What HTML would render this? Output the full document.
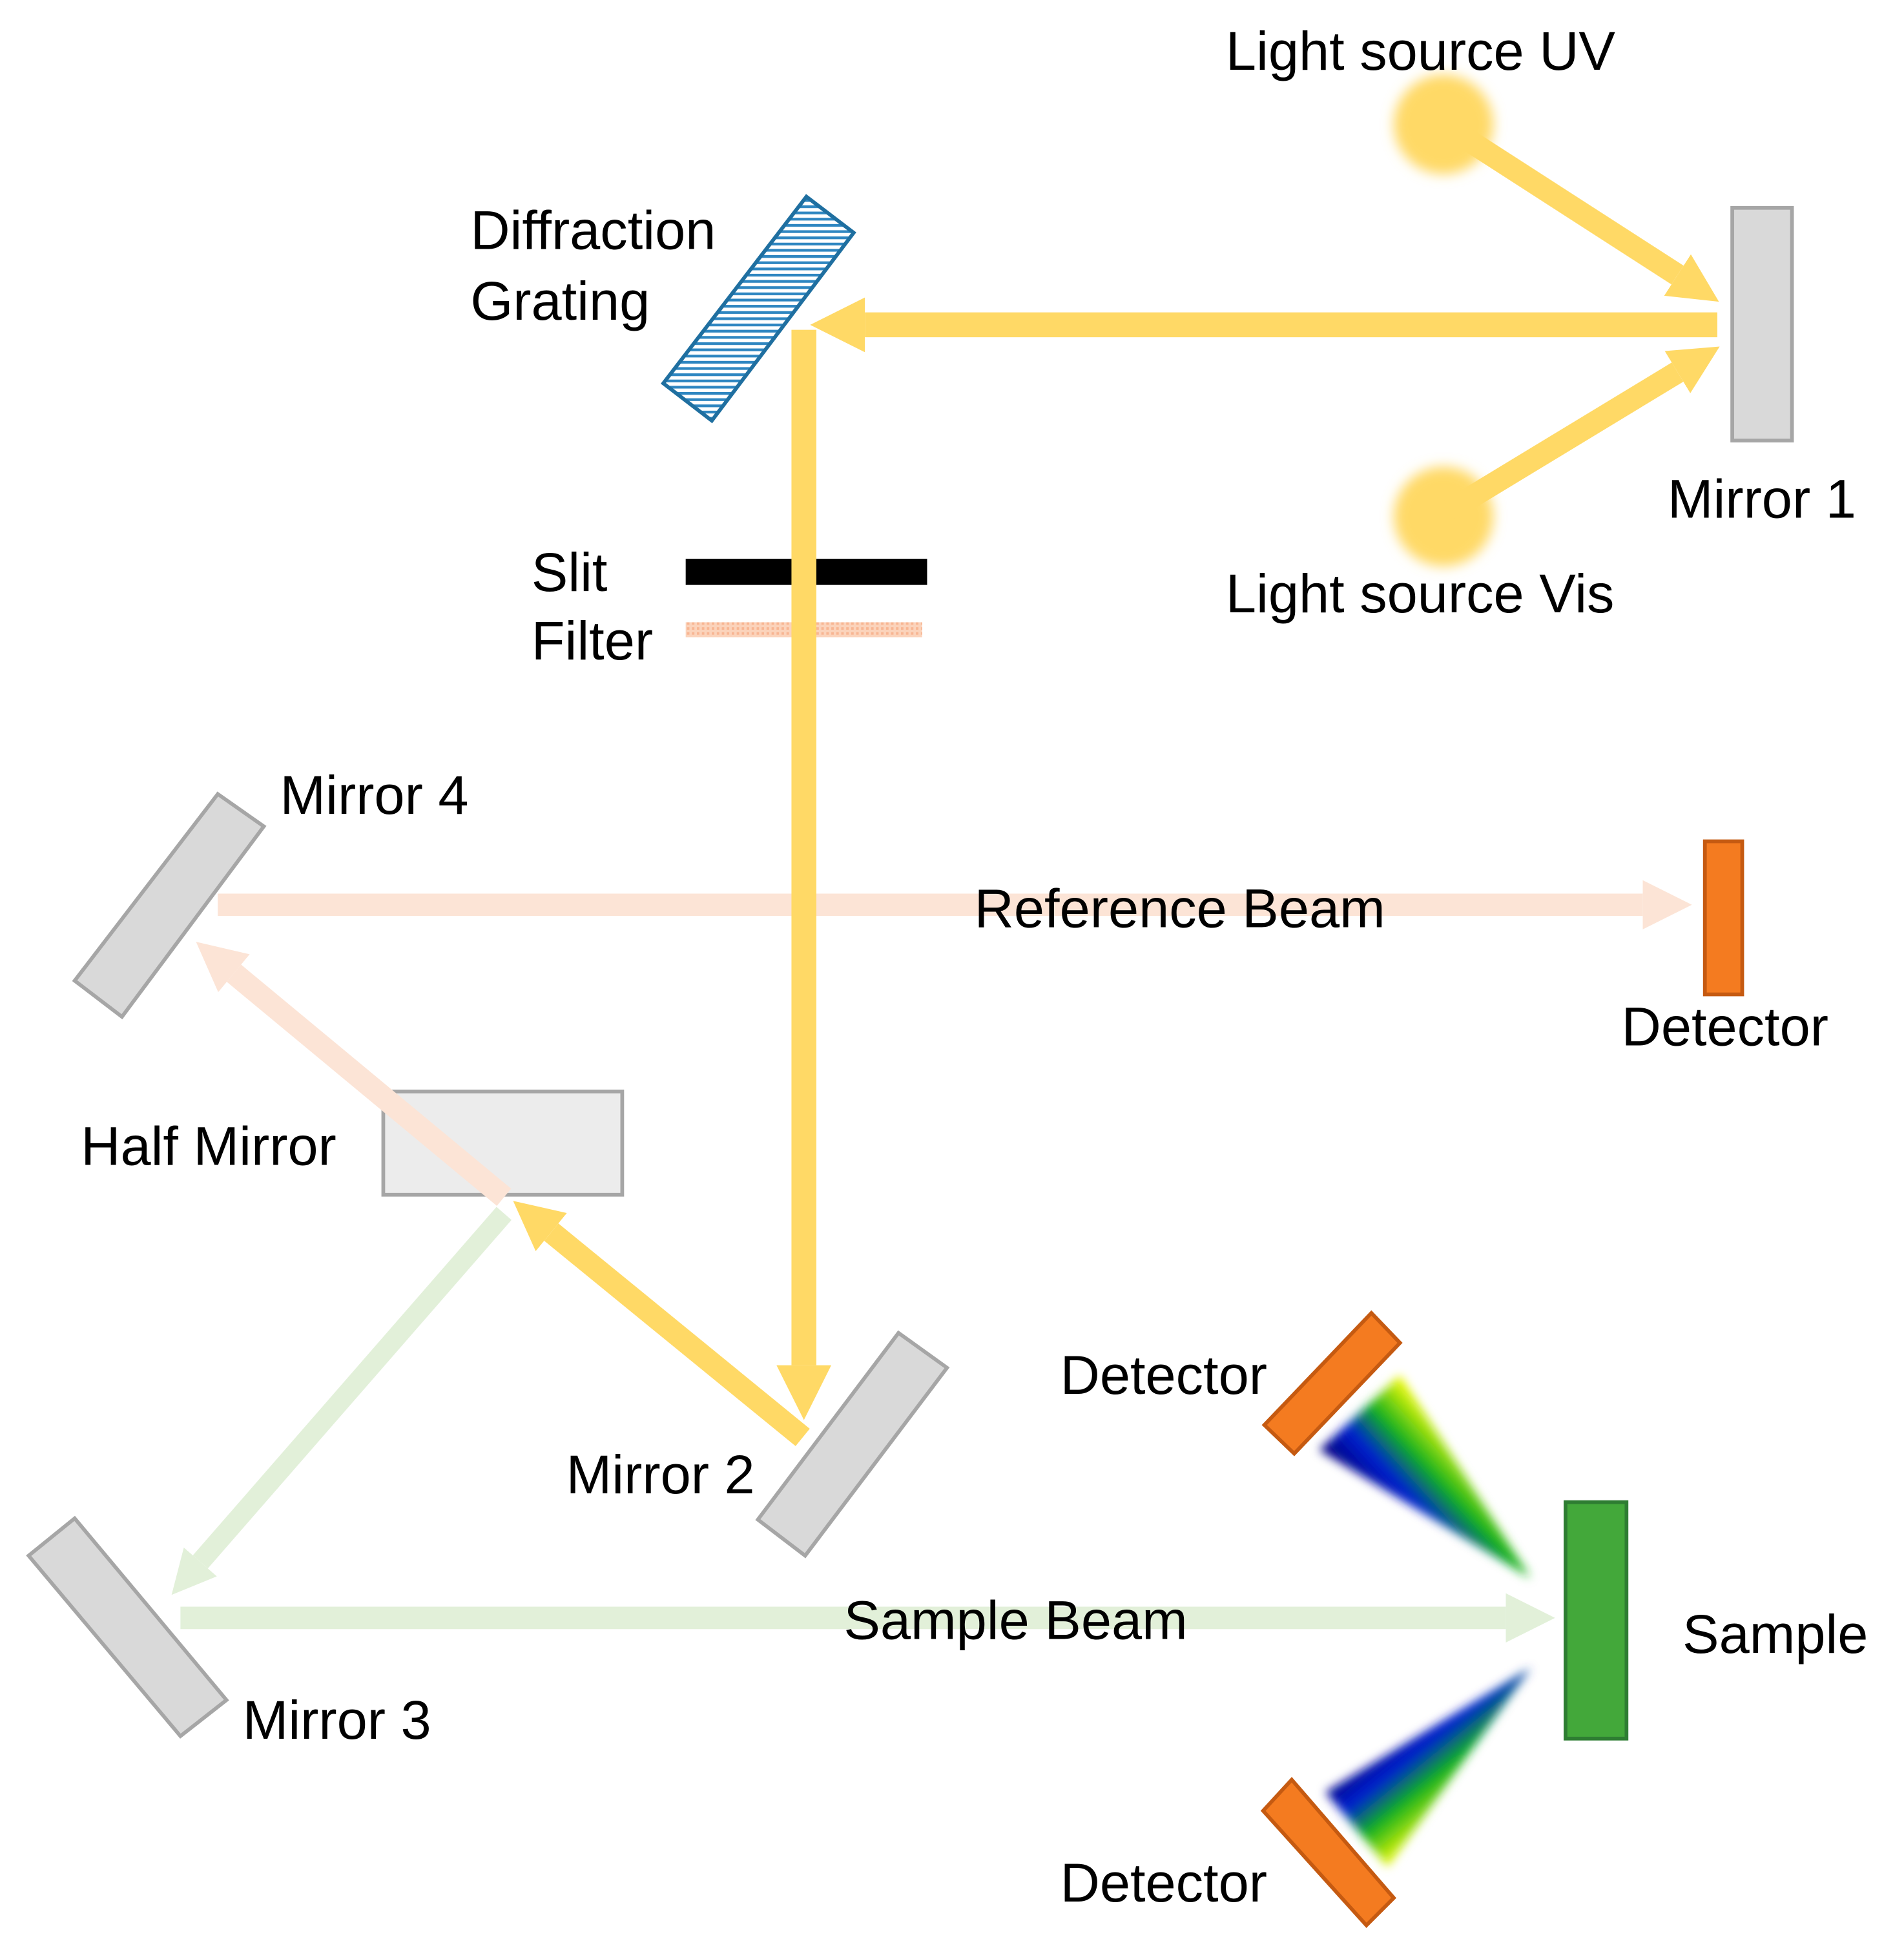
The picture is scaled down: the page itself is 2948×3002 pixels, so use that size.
<!DOCTYPE html>
<html><head><meta charset="utf-8"><style>
html,body{margin:0;padding:0;background:#fff;}
svg{display:block;}
text{font-family:"Liberation Sans",Arial,sans-serif;font-size:44px;fill:#000;}
</style></head><body>
<svg width="2948" height="3002" viewBox="0 0 1530 1558" preserveAspectRatio="none" xmlns="http://www.w3.org/2000/svg">
<defs>
<marker id="ay" viewBox="0 0 10 10" markerWidth="2.2" markerHeight="2.2" refX="0" refY="5" orient="auto" markerUnits="strokeWidth"><path d="M0,0 L10,5 L0,10 Z" fill="#ffd966"/></marker>
<marker id="ap" viewBox="0 0 10 10" markerWidth="2.2" markerHeight="2.2" refX="0" refY="5" orient="auto" markerUnits="strokeWidth"><path d="M0,0 L10,5 L0,10 Z" fill="#fce4d6"/></marker>
<marker id="ag" viewBox="0 0 10 10" markerWidth="2.2" markerHeight="2.2" refX="0" refY="5" orient="auto" markerUnits="strokeWidth"><path d="M0,0 L10,5 L0,10 Z" fill="#e2f0d9"/></marker>
<pattern id="hatch" width="8" height="5" patternUnits="userSpaceOnUse"><rect width="8" height="5" fill="#fff"/><rect y="0" width="8" height="2.2" fill="#2e86c1"/></pattern>
<pattern id="fil" width="4" height="4" patternUnits="userSpaceOnUse"><rect width="4" height="4" fill="#fbd3bb"/><rect width="2" height="2" fill="#f8b592"/></pattern>
<filter id="glow" x="-50%" y="-50%" width="200%" height="200%"><feGaussianBlur stdDeviation="5"/></filter>
<filter id="bl" x="-30%" y="-30%" width="160%" height="160%"><feGaussianBlur stdDeviation="4"/></filter>
<linearGradient id="g1" gradientUnits="userSpaceOnUse" x1="1065" y1="1165" x2="1128" y2="1108"><stop offset="0" stop-color="#000080"/><stop offset="0.3" stop-color="#0020d0"/><stop offset="0.6" stop-color="#10b020"/><stop offset="1" stop-color="#ffff00"/></linearGradient>
<linearGradient id="g2" gradientUnits="userSpaceOnUse" x1="1065" y1="1435" x2="1118" y2="1500"><stop offset="0" stop-color="#000080"/><stop offset="0.3" stop-color="#0020d0"/><stop offset="0.6" stop-color="#10b020"/><stop offset="1" stop-color="#ffff00"/></linearGradient>
</defs>

<!-- light sources -->
<circle cx="1160" cy="100" r="40" fill="#ffd966" filter="url(#glow)"/>
<circle cx="1160" cy="415" r="40" fill="#ffd966" filter="url(#glow)"/>
<line x1="1165" y1="103" x2="1348" y2="221" stroke="#ffd966" stroke-width="18" marker-end="url(#ay)"/>
<line x1="1165" y1="410" x2="1348" y2="299" stroke="#ffd966" stroke-width="18" marker-end="url(#ay)"/>

<!-- mirror 1 -->
<rect x="1392" y="167" width="48" height="187" fill="#d9d9d9" stroke="#a6a6a6" stroke-width="3"/>

<!-- horizontal beam to grating -->
<line x1="1380" y1="261" x2="695" y2="261" stroke="#ffd966" stroke-width="20" marker-end="url(#ay)"/>

<!-- grating -->
<polygon points="648,158 686,187 572,338 533,308" fill="url(#hatch)" stroke="#1f6fa0" stroke-width="3"/>

<!-- slit & filter -->
<rect x="551" y="449" width="194" height="21" fill="#000"/>
<rect x="551" y="500" width="190" height="12" fill="url(#fil)"/>

<!-- reference beam (under vertical) -->
<line x1="175" y1="727" x2="1320" y2="727" stroke="#fce4d6" stroke-width="18" marker-end="url(#ap)"/>

<!-- vertical beam -->
<line x1="646" y1="265" x2="646" y2="1097" stroke="#ffd966" stroke-width="20" marker-end="url(#ay)"/>

<!-- mirror 4 -->
<polygon points="175,638 212,664 98,817 60,788" fill="#d9d9d9" stroke="#a6a6a6" stroke-width="3"/>

<!-- detector top right -->
<rect x="1370" y="676" width="30" height="123" fill="#f47b20" stroke="#c55a11" stroke-width="3"/>

<!-- half mirror -->
<rect x="308" y="877" width="192" height="83" fill="#ececec" stroke="#a6a6a6" stroke-width="3"/>

<!-- diagonal beams -->
<line x1="405" y1="962" x2="188" y2="782" stroke="#fce4d6" stroke-width="18" marker-end="url(#ap)"/>
<line x1="645" y1="1155" x2="443" y2="990" stroke="#ffd966" stroke-width="18" marker-end="url(#ay)"/>
<line x1="405" y1="975" x2="161" y2="1255" stroke="#e2f0d9" stroke-width="16" marker-end="url(#ag)"/>

<!-- mirror 2 -->
<polygon points="722,1071 761,1099 647,1250 609,1221" fill="#d9d9d9" stroke="#a6a6a6" stroke-width="3"/>

<!-- mirror 3 -->
<polygon points="60,1220 182,1366 145,1395 23,1250" fill="#d9d9d9" stroke="#a6a6a6" stroke-width="3"/>

<!-- sample beam -->
<line x1="145" y1="1300" x2="1210" y2="1300" stroke="#e2f0d9" stroke-width="18" marker-end="url(#ag)"/>

<!-- sample -->
<rect x="1258" y="1207" width="49" height="190" fill="#43a83a" stroke="#2e7d32" stroke-width="3"/>

<!-- spectra -->
<polygon points="1230,1268 1060,1165 1125,1105" fill="url(#g1)" filter="url(#bl)"/>
<polygon points="1230,1340 1065,1440 1115,1500" fill="url(#g2)" filter="url(#bl)"/>

<!-- detectors angled -->
<polygon points="1102,1055 1125,1079 1040,1168 1016,1145" fill="#f47b20" stroke="#c55a11" stroke-width="3"/>
<polygon points="1038,1430 1120,1525 1098,1547 1015,1455" fill="#f47b20" stroke="#c55a11" stroke-width="3"/>

<!-- labels -->
<text x="985" y="56">Light source UV</text>
<text x="985" y="492">Light source Vis</text>
<text x="1340" y="416">Mirror  1</text>
<text x="378" y="200">Diffraction</text>
<text x="378" y="257">Grating</text>
<text x="427" y="475">Slit</text>
<text x="427" y="530">Filter</text>
<text x="225" y="654">Mirror  4</text>
<text x="783" y="745">Reference  Beam</text>
<text x="1303" y="840">Detector</text>
<text x="65" y="936">Half Mirror</text>
<text x="455" y="1200">Mirror  2</text>
<text x="195" y="1397">Mirror  3</text>
<text x="678" y="1317">Sample Beam</text>
<text x="1352" y="1328">Sample</text>
<text x="852" y="1120">Detector</text>
<text x="852" y="1528">Detector</text>
</svg>
</body></html>
